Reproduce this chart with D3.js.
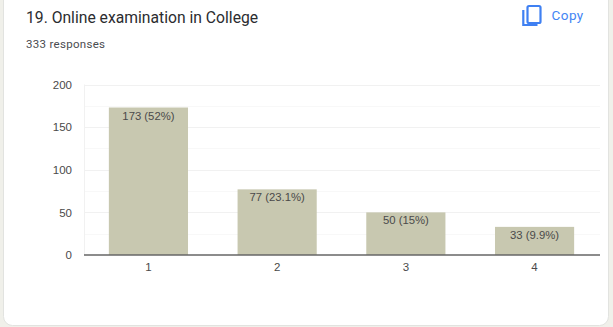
<!DOCTYPE html>
<html>
<head>
<meta charset="utf-8">
<script src="https://cdn.jsdelivr.net/npm/d3@7/dist/d3.min.js"></script>
<style>
html,body{margin:0;padding:0;background:#fff;overflow:hidden}
svg{display:block}
text{font-family:Roboto,Arial,sans-serif}
.tick text{font-family:"Liberation Sans",Arial,sans-serif;font-size:11.5px;fill:#4a4a4a}
</style>
</head>
<body>
<svg width="613" height="327"></svg>
<script>
var categories = ["1","2","3","4"];
var values = [173,77,50,33];
var labels = ["173 (52%)","77 (23.1%)","50 (15%)","33 (9.9%)"];
var majorTicks = [0,50,100,150,200];
var minorTicks = [25,75,125,175];

var svg = d3.select("svg");

// page edge and card
svg.append("rect").attr("width",613).attr("height",327).attr("fill","#f0f0ea");
svg.append("rect")
    .attr("x",3.5).attr("y",-20)
    .attr("width",605).attr("height",345.5)
    .attr("rx",9)
    .attr("fill","#fff")
    .attr("stroke","#e2e3e0");

svg.append("text").attr("x",26).attr("y",23)
    .attr("font-size",15.7).attr("fill","#2b2c2f").text("19. Online examination in College");
svg.append("text").attr("x",26).attr("y",48)
    .attr("font-size",11.5).attr("letter-spacing",0.3).attr("fill","#4a4c50").text("333 responses");

// copy button
var copy = svg.append("g").attr("fill","none").attr("stroke","#3f80f2").attr("stroke-width",2.2);
copy.append("rect").attr("x",527.5).attr("y",6).attr("width",13).attr("height",17).attr("rx",1.5);
copy.append("path").attr("d","M523.3 10V25H537.5");
svg.append("text").attr("x",551.5).attr("y",20)
    .attr("font-size",13.5).attr("letter-spacing",0.45).attr("fill","#4285f4").text("Copy");

var x = d3.scaleBand().domain(categories).range([83.5,599.5]).paddingInner(0.385).paddingOuter(0.197);
var y = d3.scaleLinear().domain([0,200]).range([255,84.5]);

var plot = svg.append("g");

plot.selectAll(".minor").data(minorTicks).enter().append("line")
    .attr("class","minor")
    .attr("x1",84).attr("x2",600)
    .attr("y1",function(d){return Math.round(y(d))+0.5})
    .attr("y2",function(d){return Math.round(y(d))+0.5})
    .attr("stroke","#f8f8f8");
plot.selectAll(".major").data(majorTicks.slice(1)).enter().append("line")
    .attr("class","major")
    .attr("x1",84).attr("x2",600)
    .attr("y1",function(d){return Math.round(y(d))+0.5})
    .attr("y2",function(d){return Math.round(y(d))+0.5})
    .attr("stroke","#f1f1f1");
plot.append("line").attr("x1",84.5).attr("x2",84.5).attr("y1",84.5).attr("y2",255).attr("stroke","#f1f1f1");

plot.selectAll(".bar").data(values).enter().append("rect")
    .attr("class","bar")
    .attr("x",function(d,i){return x(categories[i])})
    .attr("width",x.bandwidth())
    .attr("y",function(d){return y(d)})
    .attr("height",function(d){return y(0)-y(d)})
    .attr("fill","#c8c8b0");

plot.selectAll(".lab").data(values).enter().append("text")
    .attr("class","lab")
    .attr("x",function(d,i){return x(categories[i])+x.bandwidth()/2})
    .attr("y",function(d){return y(d)+12})
    .attr("text-anchor","middle")
    .attr("font-size",11.3)
    .attr("style","font-family:'Liberation Sans',Arial,sans-serif")
    .attr("fill","#4a4a4a")
    .text(function(d,i){return labels[i]});

var yAxis = d3.axisLeft(y).tickValues(majorTicks).tickSize(0).tickPadding(12);
svg.append("g").attr("transform","translate(84,0)").call(yAxis).call(function(g){g.select(".domain").remove()});

var xAxis = d3.axisBottom(x).tickSize(0).tickPadding(8);
svg.append("g").attr("transform","translate(0,255)").call(xAxis).call(function(g){g.select(".domain").remove()});

plot.append("line").attr("x1",84).attr("x2",600).attr("y1",255).attr("y2",255)
    .attr("stroke","#666").attr("stroke-width",1.5);
</script>
</body>
</html>
